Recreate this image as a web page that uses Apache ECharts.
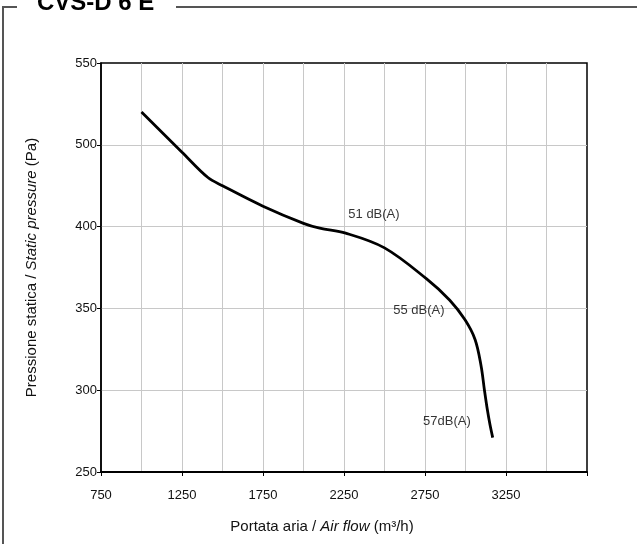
<!DOCTYPE html>
<html>
<head>
<meta charset="utf-8">
<script src="https://cdn.jsdelivr.net/npm/echarts@6/dist/echarts.min.js"></script>
<style>
  html, body { margin: 0; padding: 0; background: #fff; }
  #chart { width: 637px; height: 544px; }
</style>
</head>
<body>
<div id="chart"></div>
<script>
// tick labels as printed on the original (note: 450 is missing there)
var yTicks = [250, 300, 350, 400, 500, 550];

// fan curve: air flow (m3/h) / static pressure (Pa)
var airFlow  = [1000, 1250, 1410, 1500, 1750, 2000, 2100, 2260, 2500, 2760, 2903, 2997, 3059, 3096, 3117, 3135, 3151, 3168];
var pressure = [520, 491, 460, 450, 425, 404, 399, 396, 387, 368, 355, 343, 331, 315, 300, 288, 279, 271];

// noise levels written along the curve
var noiseText = ['51 dB(A)', '55 dB(A)', '57dB(A)'];
var noiseFlow = [2435, 2712, 2885];
var noisePres = [415, 349, 281];

var font = '"Liberation Sans Narrow", "Arial Narrow", "Liberation Sans", Arial, sans-serif';

// the printed y scale is evenly spaced by label, so map Pa onto label steps
function toLevel(p) {
  for (var i = 0; i < yTicks.length - 1; i++) {
    if (p <= yTicks[i + 1]) {
      return i + (p - yTicks[i]) / (yTicks[i + 1] - yTicks[i]);
    }
  }
  return yTicks.length - 1;
}

var curve = airFlow.map(function (x, i) { return [x, toLevel(pressure[i])]; });
var notes = noiseFlow.map(function (x, i) {
  return { value: [x, toLevel(noisePres[i])], name: noiseText[i] };
});

var nameRich = {
  n: { fontSize: 15, color: '#111', fontFamily: '"Liberation Sans", Arial, sans-serif' },
  i: { fontSize: 15, color: '#111', fontStyle: 'italic', fontFamily: '"Liberation Sans", Arial, sans-serif' }
};

var myChart = echarts.init(document.getElementById('chart'));
var option = {
  animation: false,
  textStyle: { fontFamily: font },
  grid: {
    left: 101, top: 63, right: 50, bottom: 72,
    show: true, borderColor: '#000', borderWidth: 1.5
  },
  graphic: [
    {
      type: 'polyline',
      shape: { points: [[17, 7], [3, 7], [3, 560]] },
      style: { stroke: '#555', lineWidth: 2, fill: null }
    },
    {
      type: 'line',
      shape: { x1: 176, y1: 7, x2: 640, y2: 7 },
      style: { stroke: '#555', lineWidth: 2 }
    },
    {
      type: 'text',
      left: 37, top: -9,
      style: {
        text: 'CVS-D 6 E',
        font: 'bold 24px "Liberation Sans", Arial, sans-serif',
        fill: '#000'
      }
    }
  ],
  xAxis: [
    {
      type: 'value',
      min: 750, max: 3750, interval: 250,
      position: 'bottom',
      name: '{n|Portata aria / }{i|Air flow}{n| (m³/h)}',
      nameLocation: 'middle',
      nameGap: 47,
      nameTextStyle: { padding: [0, 44, 0, 0], rich: nameRich },
      axisLine: { lineStyle: { color: '#000', width: 2 } },
      axisTick: { show: false },
      axisLabel: {
        margin: 17, fontSize: 13, color: '#111',
        formatter: function (v) {
          return ((v - 750) % 500 === 0 && v < 3750) ? String(v) : '';
        }
      },
      splitLine: { show: true, showMaxLine: false, showMinLine: false, lineStyle: { color: '#c8c8c8', width: 1 } }
    },
    {
      // only draws the tick marks every 500 m3/h
      type: 'value',
      min: 0, max: 3000, interval: 500,
      position: 'bottom',
      axisLine: { show: false },
      axisTick: { show: true, length: 4, lineStyle: { color: '#000', width: 1 } },
      axisLabel: { show: false },
      splitLine: { show: false }
    }
  ],
  yAxis: {
    type: 'value',
    min: 0, max: 5, interval: 1,
    name: '{n|Pressione statica / }{i|Static pressure}{n| (Pa)}',
    nameLocation: 'middle',
    nameRotate: 90,
    nameGap: 62,
    nameTextStyle: { rich: nameRich },
    axisLine: { show: true, lineStyle: { color: '#000', width: 1.5 } },
    axisTick: { show: true, length: 4, lineStyle: { color: '#000', width: 1 } },
    axisLabel: {
      margin: 4, fontSize: 13, color: '#111',
      formatter: function (v) { return String(yTicks[v]); }
    },
    splitLine: { show: true, showMaxLine: false, showMinLine: false, lineStyle: { color: '#c8c8c8', width: 1 } }
  },
  series: [
    {
      name: 'curve',
      type: 'line',
      xAxisIndex: 0,
      data: curve,
      smooth: 0.35,
      showSymbol: false,
      lineStyle: { color: '#000', width: 2.8 },
      silent: true
    },
    {
      name: 'noise',
      type: 'scatter',
      xAxisIndex: 0,
      data: notes,
      symbolSize: 0,
      label: {
        show: true, position: 'inside',
        formatter: '{b}', fontSize: 13, color: '#000', fontFamily: font
      },
      silent: true
    }
  ]
};
myChart.setOption(option);
</script>
</body>
</html>
